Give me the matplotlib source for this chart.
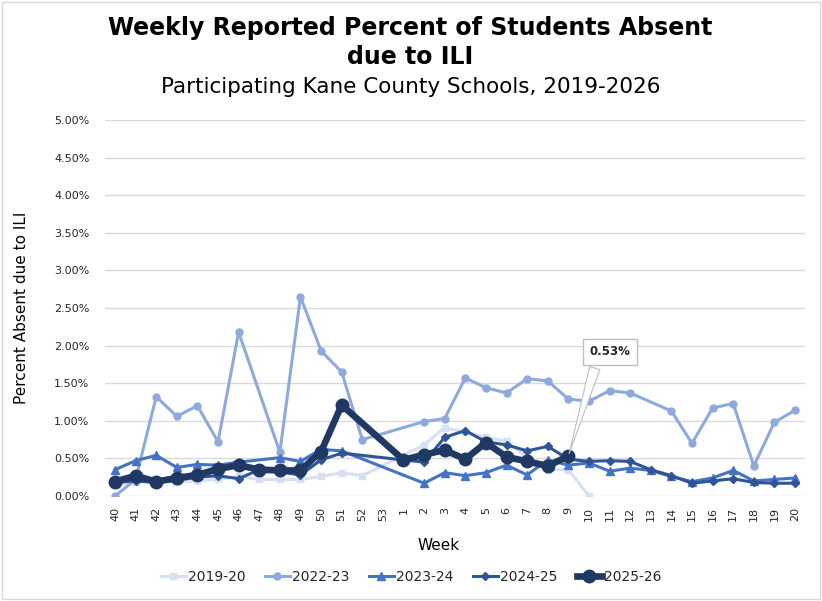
import numpy as np
import matplotlib
matplotlib.use("Agg")
import matplotlib.pyplot as plt
from matplotlib.patches import Rectangle
from matplotlib.ticker import FuncFormatter, MultipleLocator

nan = np.nan
weeks = [str(w) for w in list(range(40, 54)) + list(range(1, 21))]

s2019_20 = [0.15, 0.18, 0.20, 0.19, 0.20, 0.22, 0.26, 0.22, 0.22, 0.22, 0.26, 0.31, 0.27, nan,
            nan, 0.68, 0.91, 0.85, 0.78, 0.73, 0.50, 0.35, 0.35, 0.00,
            nan, nan, nan, nan, nan, nan, nan, nan, nan, nan]
s2022_23 = [0.00, 0.22, 1.32, 1.06, 1.20, 0.72, 2.18, nan, 0.58, 2.65, 1.93, 1.65, 0.75, nan,
            nan, 0.99, 1.03, 1.57, 1.44, 1.37, 1.56, 1.53, 1.29, 1.26,
            1.40, 1.37, nan, 1.13, 0.70, 1.17, 1.23, 0.40, 0.98, 1.14]
s2023_24 = [0.35, 0.47, 0.54, 0.38, 0.42, 0.41, 0.45, nan, 0.51, 0.46, 0.62, 0.60, nan, nan,
            nan, 0.17, 0.31, 0.27, 0.31, 0.41, 0.28, 0.48, 0.41, 0.44,
            0.33, 0.37, 0.34, 0.26, 0.19, 0.24, 0.34, 0.20, 0.22, 0.24]
s2024_25 = [0.18, 0.20, 0.18, 0.21, 0.25, 0.27, 0.23, 0.35, 0.32, 0.28, 0.48, 0.57, nan, nan,
            nan, 0.45, 0.78, 0.87, 0.72, 0.68, 0.60, 0.66, 0.49, 0.46,
            0.47, 0.46, 0.35, 0.27, 0.17, 0.20, 0.23, 0.18, 0.17, 0.17]
s2025_26 = [0.19, 0.27, 0.19, 0.24, 0.28, 0.36, 0.41, 0.35, 0.34, 0.34, 0.59, 1.21, nan, nan,
            0.48, 0.55, 0.61, 0.49, 0.71, 0.52, 0.46, 0.40, 0.53, nan,
            nan, nan, nan, nan, nan, nan, nan, nan, nan, nan]

series = [
    ("2019-20", s2019_20, "#D6E0F2", "s", 2.2, 5),
    ("2022-23", s2022_23, "#8EA9DB", "o", 2.2, 5),
    ("2023-24", s2023_24, "#4472C4", "^", 2.2, 6),
    ("2024-25", s2024_25, "#2F5597", "D", 2.2, 4.5),
    ("2025-26", s2025_26, "#1F3864", "o", 4.8, 9),
]

plt.rcParams['font.family'] = ['DejaVu Sans']
fig = plt.figure(figsize=(8.22, 6.01), dpi=100)
W, H = 822, 601
ax = fig.add_axes([104.7 / W, 1 - 496 / H, (805.3 - 104.7) / W, (496 - 120) / H])

x = np.arange(len(weeks))
for name, vals, color, marker, lw, ms in series:
    v = np.array(vals, dtype=float)
    m = ~np.isnan(v)
    ax.plot(x[m], v[m], color=color, lw=lw, marker=marker, ms=ms,
            markerfacecolor=color, markeredgecolor=color, label=name,
            solid_joinstyle='round', zorder=3)

ax.set_xlim(-0.5, len(weeks) - 0.5)
ax.set_ylim(0, 5.0)
ax.yaxis.set_major_locator(MultipleLocator(0.5))
ax.yaxis.set_major_formatter(FuncFormatter(lambda v, p: f"{v:.2f}%"))
ax.set_xticks(x)
ax.set_xticklabels(weeks, rotation=90)
ax.tick_params(axis='both', length=0, labelsize=8, colors='#262626')
ax.tick_params(axis='y', pad=11)
ax.tick_params(axis='x', pad=8)
ax.grid(axis='y', color='#D9D9D9', lw=1, zorder=0)
for sp in ax.spines.values():
    sp.set_visible(False)

# callout for latest value
last_i = int(np.where(~np.isnan(np.array(s2025_26, dtype=float)))[0][-1])
last_v = s2025_26[last_i]
ax.annotate(f"{last_v:.2f}%", xy=(x[last_i], last_v), xytext=(30, 75),
            textcoords='offset points', ha='center', va='center',
            fontsize=8.5, fontweight='bold', color='#262626',
            bbox=dict(boxstyle='square,pad=0.55', fc='white', ec='#BFBFBF', lw=1),
            arrowprops=dict(arrowstyle='wedge,tail_width=0.9,shrink_factor=0.5',
                            fc='white', ec='#BFBFBF', lw=0.8, relpos=(0.2, 0.0)),
            zorder=5)

fig.text(0.4994, 1 - 28 / H, "Weekly Reported Percent of Students Absent",
         ha='center', va='center', fontsize=17, fontweight='bold')
fig.text(0.4994, 1 - 57 / H, "due to ILI",
         ha='center', va='center', fontsize=17, fontweight='bold')
fig.text(0.4994, 1 - 87 / H, "Participating Kane County Schools, 2019-2026",
         ha='center', va='center', fontsize=15.5)
fig.text(22 / W, 1 - 308 / H, "Percent Absent due to ILI", rotation=90,
         ha='center', va='center', fontsize=11)
fig.text(439 / W, 1 - 545 / H, "Week", ha='center', va='center', fontsize=11)

leg = fig.legend(loc='center', bbox_to_anchor=(411 / W, 1 - 577 / H), ncol=5,
                 frameon=False, fontsize=10, handlelength=1.8, handletextpad=0.15,
                 columnspacing=1.4)
for t in leg.get_texts():
    t.set_color('#262626')

fig.patches.append(Rectangle((2 / W, 2 / H), 1 - 4 / W, 1 - 4 / H,
                             transform=fig.transFigure, fill=False,
                             ec='#D9D9D9', lw=1))
fig.savefig("out.png", dpi=100, facecolor='white')
